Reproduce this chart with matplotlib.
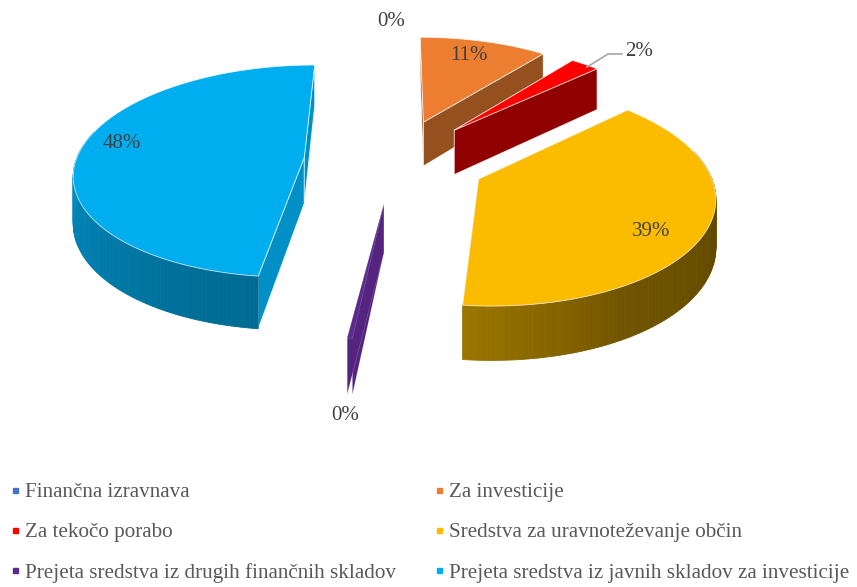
import numpy as np
import matplotlib
matplotlib.use('Agg')
import matplotlib.pyplot as plt
from matplotlib.lines import Line2D

plt.rcParams['font.family'] = ['Liberation Serif', 'DejaVu Serif']

labels = ['Finančna izravnava', 'Za investicije', 'Za tekočo porabo',
          'Sredstva za uravnoteževanje občin',
          'Prejeta sredstva iz drugih finančnih skladov',
          'Prejeta sredstva iz javnih skladov za investicije']
values = [0, 10.6, 2.4, 38.7, 0.3, 48.0]   # percent, estimated from the angles
colors = ['#4472c4', '#ed7d31', '#ff0000', '#fbbc00', '#5b2a8c', '#00aeef']
wall_colors = ['#2f4f87', '#95501f', '#900000', '#7a5c00', '#55247f', '#0090c6']

# where the value labels sit (px)
label_pos = [(391, 22), (469, 56), (639, 52), (651, 231), (345, 416), (122, 143)]

# projection of the pie, fitted by eye
X0, Y0 = 395, 160
R, F, H = 228, 105, 46
PERSP = 0.13
EXPLODE = 0.40


def project(x, y, z=0):
    s = 1 / (1 + PERSP * y)
    return X0 + x * R * s, Y0 - y * F * s + z * H * s


def shade(deg):
    return np.interp(deg, [0, 40, 100, 150, 185, 200, 270, 360],
                     [.85, .36, .38, .45, .62, .63, .80, .85])


fig = plt.figure(figsize=(8.57, 5.87), dpi=100)
ax = fig.add_axes([0, 0, 1, 1])
ax.set_xlim(0, 857)
ax.set_ylim(587, 0)
ax.axis('off')

edges = np.cumsum([0] + values) / 100 * 360
for i in range(len(values)):
    if values[i] == 0:
        continue
    a0, a1 = edges[i], edges[i + 1]
    mid = np.radians((a0 + a1) / 2)
    ox, oy = EXPLODE * np.sin(mid), EXPLODE * np.cos(mid)
    th = np.linspace(a0, a1, max(int(a1 - a0), 2) + 1)
    rx = ox + np.sin(np.radians(th))
    ry = oy + np.cos(np.radians(th))
    thin = values[i] < 1
    white = (1, 1, 1, 0.35 if thin else 0.75)
    line = 0.3 if thin else 0.6

    # the two cut walls
    for k in (0, -1):
        p = [project(ox, oy), project(rx[k], ry[k]),
             project(rx[k], ry[k], 1), project(ox, oy, 1)]
        ax.fill(*zip(*p), facecolor=wall_colors[i], edgecolor=white,
                lw=line, zorder=2)

    # outer side, one strip per step so it can carry the gradient
    base = np.array(matplotlib.colors.to_rgb(colors[i]))
    for j in range(len(th) - 1):
        t = (th[j] + th[j + 1]) / 2
        if t < 75 or t > 285 or thin:
            continue
        p = [project(rx[j], ry[j]), project(rx[j + 1], ry[j + 1]),
             project(rx[j + 1], ry[j + 1], 1), project(rx[j], ry[j], 1)]
        ax.fill(*zip(*p), color=base * shade(t), lw=0.6, zorder=3)

    # top
    tx, ty = project(np.r_[ox, rx], np.r_[oy, ry])
    ax.fill(tx, ty, facecolor=colors[i], edgecolor=white, lw=line,
            zorder=4, joinstyle='round')

for v, (x, y) in zip(values, label_pos):
    ax.text(x, y, f'{v:.0f}%', fontsize=15, color='#404040',
            ha='center', va='center', zorder=6)

# leader line of the small slice
ax.plot([587, 608, 622], [67, 54, 54], color='#a6a6a6', lw=1.2, zorder=5)

handles = [Line2D([], [], ls='', marker='s', ms=3.6, color=c) for c in colors]
order = [0, 2, 4, 1, 3, 5]
ax.legend([handles[i] for i in order], [labels[i] for i in order], ncol=2,
          loc='lower left', bbox_to_anchor=(2.4, 589), bbox_transform=ax.transData,
          frameon=False, fontsize=15.2, labelcolor='#595959', labelspacing=0.97,
          handlelength=0.6, handletextpad=0.18, columnspacing=1.72,
          borderaxespad=0, borderpad=0.3)

fig.savefig('out.png', dpi=100)
